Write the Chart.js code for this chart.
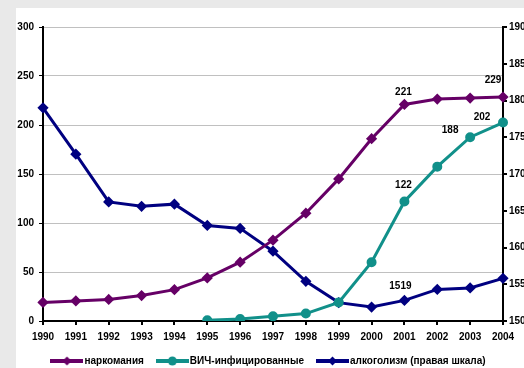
<!DOCTYPE html>
<html lang="ru">
<head>
<meta charset="UTF-8">
<title>Наркомания, ВИЧ, алкоголизм</title>
<script src="https://cdn.jsdelivr.net/npm/chart.js"></script>
<style>
  html, body { margin: 0; padding: 0; background: #e9e9e9; }
</style>
</head>
<body>
<canvas id="grafico" width="524" height="368"></canvas>
<script>
// dados
const anos = ['1990', '1991', '1992', '1993', '1994', '1995', '1996', '1997', '1998', '1999', '2000', '2001', '2002', '2003', '2004'];
const narkomaniya = [19, 20.5, 22, 26, 32, 44, 60, 82.5, 110, 145, 186, 221, 226.5, 227.5, 228.5];
const vich = [null, null, null, null, null, 0.7, 2, 4.8, 7.6, 19, 60, 122, 157.5, 187.5, 202.5];
const alkogolizm = [1790, 1727, 1662, 1656, 1659, 1630, 1626, 1595, 1554, 1525, 1519, 1528, 1543, 1545, 1558];
const nomes = ['наркомания', 'ВИЧ-инфицированные', 'алкоголизм (правая шкала)'];

// rotulos de valores: serie, ponto, texto
const rotulos = [
  [0, 11, '221'],
  [0, 14, '229'],
  [1, 11, '122'],
  [1, 13, '188'],
  [1, 14, '202'],
  [2, 11, '1519'],
];
const deslocRotulos = [[-1, -12], [-10, -17], [-1, -16], [-20, -7], [-21, -5], [-4, -14]];

const cores = ['#660066', '#11908a', '#000080'];
const fonte = { family: '"Liberation Sans", Arial, sans-serif', size: 10, weight: 'bold' };

function imgLegenda(cor, forma) {
  const c = document.createElement('canvas');
  c.width = 33; c.height = 10;
  const g = c.getContext('2d');
  g.strokeStyle = cor; g.lineWidth = 4;
  g.beginPath(); g.moveTo(0, 5); g.lineTo(33, 5); g.stroke();
  g.fillStyle = cor;
  g.beginPath();
  if (forma === 'circle') {
    g.arc(16.5, 5, 4.5, 0, Math.PI * 2);
  } else {
    g.moveTo(16.5, 0.5); g.lineTo(21, 5); g.lineTo(16.5, 9.5); g.lineTo(12, 5); g.closePath();
  }
  g.fill();
  return c;
}
const legendaImgs = [imgLegenda(cores[0], 'rectRot'), imgLegenda(cores[1], 'circle'), imgLegenda(cores[2], 'rectRot')];

const fundo = {
  id: 'fundo',
  beforeDraw(chart) {
    const ctx = chart.ctx;
    ctx.save();
    ctx.fillStyle = '#e9e9e9';
    ctx.fillRect(0, 0, chart.width, chart.height);
    ctx.fillStyle = '#ffffff';
    ctx.fillRect(16, 8, chart.width - 16, chart.height - 8);
    ctx.restore();
  }
};

const valores = {
  id: 'valores',
  afterDatasetsDraw(chart) {
    const ctx = chart.ctx;
    ctx.save();
    ctx.font = 'bold 10px "Liberation Sans", Arial, sans-serif';
    ctx.fillStyle = '#000';
    ctx.textAlign = 'center';
    ctx.textBaseline = 'middle';
    rotulos.forEach((r, i) => {
      const p = chart.getDatasetMeta(r[0]).data[r[1]];
      ctx.fillText(r[2], p.x + deslocRotulos[i][0], p.y + deslocRotulos[i][1]);
    });
    ctx.restore();
  }
};

new Chart(document.getElementById('grafico'), {
  type: 'line',
  data: {
    labels: anos,
    datasets: [{
      label: nomes[0],
      data: narkomaniya,
      borderColor: cores[0],
      backgroundColor: cores[0],
      borderWidth: 3,
      pointStyle: 'rectRot',
      pointRadius: 3.5,
      yAxisID: 'y'
    }, {
      label: nomes[1],
      data: vich,
      borderColor: cores[1],
      backgroundColor: cores[1],
      borderWidth: 3,
      pointStyle: 'circle',
      pointRadius: 3.5,
      yAxisID: 'y'
    }, {
      label: nomes[2],
      data: alkogolizm,
      borderColor: cores[2],
      backgroundColor: cores[2],
      borderWidth: 3,
      pointStyle: 'rectRot',
      pointRadius: 3.5,
      yAxisID: 'y1'
    }]
  },
  options: {
    responsive: false,
    animation: false,
    layout: { padding: { left: 16, top: 27, right: 0, bottom: 0 } },
    elements: { line: { tension: 0 } },
    plugins: {
      tooltip: { enabled: false },
      legend: {
        position: 'bottom',
        maxHeight: 28,
        labels: {
          usePointStyle: true,
          pointStyleWidth: 25,
          padding: 16,
          color: '#000',
          font: fonte,
          generateLabels: chart => Chart.defaults.plugins.legend.labels.generateLabels(chart).map((item, i) => {
            item.pointStyle = legendaImgs[i];
            return item;
          })
        }
      }
    },
    scales: {
      x: {
        offset: false,
        afterFit: s => { s.height = 19; },
        grid: { drawOnChartArea: false, offset: false, tickLength: 4, tickColor: '#000', lineWidth: 2 },
        border: { color: '#000', width: 2 },
        ticks: { color: '#000', font: fonte, padding: 6, maxRotation: 0, autoSkip: false }
      },
      y: {
        position: 'left',
        min: 0,
        max: 300,
        afterFit: s => { s.width = 27; },
        grid: { color: '#c0c0c0', lineWidth: 1, tickLength: 4, tickColor: '#000' },
        border: { color: '#000', width: 2 },
        ticks: { stepSize: 50, color: '#000', font: fonte, padding: 5 }
      },
      y1: {
        position: 'right',
        min: 1500,
        max: 1900,
        afterFit: s => { s.width = 21; },
        grid: { drawOnChartArea: false, tickLength: 4, tickColor: '#000', lineWidth: 2 },
        border: { color: '#000', width: 2 },
        ticks: { stepSize: 50, color: '#000', font: fonte, padding: 2, callback: v => String(v) }
      }
    }
  },
  plugins: [fundo, valores]
});
</script>
</body>
</html>
